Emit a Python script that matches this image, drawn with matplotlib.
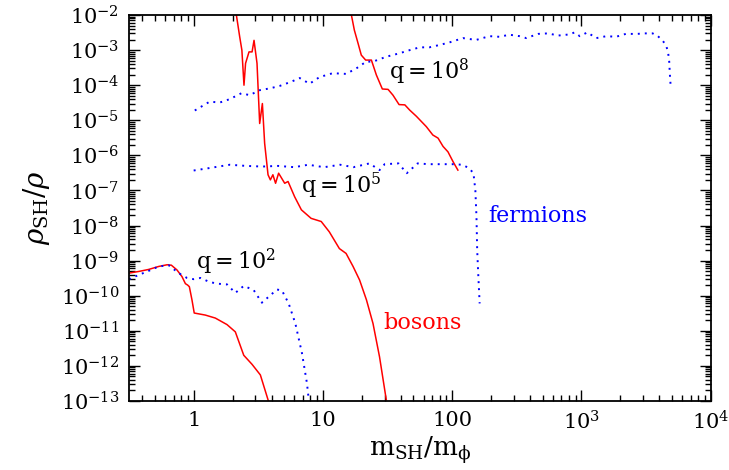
import numpy as np
import matplotlib
matplotlib.use("Agg")
import matplotlib.pyplot as plt
from matplotlib.ticker import LogLocator, FixedLocator, FixedFormatter, NullFormatter

plt.rcParams["font.family"] = ["DejaVu Serif"]
plt.rcParams["mathtext.fontset"] = "dejavuserif"

# bosons (solid red)
bos_q2_x = [0.316, 0.376, 0.449, 0.536, 0.622, 0.672, 0.743, 0.812, 0.863, 0.899, 0.926,
            0.970, 1.01, 1.23, 1.47, 1.81, 2.10, 2.44, 2.83, 3.28, 3.80]
bos_q2_y = [4.4e-10, 4.9e-10, 5.6e-10, 6.8e-10, 7.6e-10, 7.4e-10, 5.4e-10, 3.5e-10, 2.2e-10,
            2.0e-10, 1.8e-10, 7.6e-11, 3.2e-11, 2.8e-11, 2.3e-11, 1.5e-11, 9.3e-12, 2.0e-12,
            1.1e-12, 5.5e-13, 9.5e-14]

bos_q5_x = [2.14, 2.27, 2.36, 2.45, 2.52, 2.68, 2.83, 2.93, 3.09, 3.24, 3.40, 3.54, 3.76,
            3.92, 4.10, 4.30, 4.54, 5.06, 5.37, 6.04, 6.81, 8.1, 9.7, 11.2, 13.4, 15.1, 17.1,
            19.2, 21.7, 24.4, 27.4, 30.9]
bos_q5_y = [1e-2, 2.4e-3, 1e-3, 1.0e-4, 4.2e-4, 8.9e-4, 8.9e-4, 1.9e-3, 4.2e-4, 8.1e-6,
            3.0e-5, 2.2e-6, 2.8e-7, 2.0e-7, 2.8e-7, 1.6e-7, 3.1e-7, 1.6e-7, 1.8e-7, 6.6e-8,
            2.8e-8, 1.6e-8, 1.3e-8, 6.6e-9, 2.2e-9, 1.6e-9, 6.8e-10, 2.8e-10, 7.6e-11,
            1.6e-11, 1.8e-12, 1.07e-13]

bos_q8_x = [16.6, 17.5, 18.7, 19.8, 21.4, 23.7, 25.9, 28.8, 31.9, 34.8, 38.8, 43.0, 46.9,
            52.8, 63.0, 70.8, 77.7, 84.9, 92.7, 101.5, 110.6]
bos_q8_y = [1e-2, 3.7e-3, 1.55e-3, 7.2e-4, 5.2e-4, 5.2e-4, 1.95e-4, 7.8e-5, 7.6e-5, 5.2e-5,
            2.8e-5, 2.75e-5, 1.95e-5, 1.3e-5, 6.6e-6, 3.8e-6, 3.1e-6, 1.8e-6, 1.26e-6,
            6.6e-7, 3.8e-7]

# fermions (dotted blue)
fer_q2_x = [0.316, 0.376, 0.449, 0.536, 0.64, 0.766, 0.888, 1.0, 1.13, 1.31, 1.51, 1.81,
            2.10, 2.44, 2.91, 3.37, 3.80, 4.41, 4.82, 5.43, 6.12, 6.88, 7.52, 7.77]
fer_q2_y = [2.95e-10, 3.9e-10, 5.1e-10, 6.8e-10, 7.4e-10, 4.4e-10, 3.2e-10, 2.95e-10,
            3.2e-10, 2.5e-10, 2.2e-10, 2.1e-10, 1.2e-10, 1.9e-10, 1.45e-10, 6.3e-11, 9.3e-11,
            1.5e-10, 1.4e-10, 6.0e-11, 1.6e-11, 2.3e-12, 3.2e-13, 1.07e-13]

fer_q5_x = [1.0, 1.3, 1.9, 2.55, 3.4, 4.5, 6.0, 7.7, 10.2, 13.6, 17.2, 22.9, 27.4, 30.0, 38.4,
            44.5, 54.0, 65.6, 80.0, 100, 120, 135, 146, 151, 154, 156, 159, 163]
fer_q5_y = [3.7e-7, 4.3e-7, 5.4e-7, 5.0e-7, 4.8e-7, 5.0e-7, 4.6e-7, 5.4e-7, 4.6e-7, 5.4e-7,
            4.6e-7, 5.9e-7, 3.8e-7, 5.6e-7, 5.9e-7, 3.1e-7, 5.9e-7, 5.6e-7, 5.6e-7, 5.6e-7,
            5.4e-7, 4.3e-7, 3.1e-7, 1.0e-7, 1.8e-8, 2.0e-9, 4.0e-10, 6.0e-11]

fer_q8_x = [1.02, 1.33, 1.59, 1.90, 2.34, 2.71, 3.24, 3.87, 4.62, 5.70, 6.61, 7.88, 9.4,
            11.9, 15.1, 18.1, 21.6, 24.4, 31.0, 39.0, 46.9, 56, 66.5, 79.7, 95.3, 121, 153,
            194, 232, 277, 331, 374, 461, 551, 659, 805, 885, 970, 1110, 1300, 1560, 1850,
            2200, 2690, 3060, 3550, 3900, 4240, 4500, 4670, 4770, 4820, 4880]
fer_q8_y = [1.9e-5, 3.4e-5, 3.2e-5, 4.0e-5, 5.9e-5, 5.2e-5, 7.2e-5, 8.1e-5, 9.5e-5, 1.26e-4,
            1.6e-4, 1.1e-4, 1.7e-4, 2.2e-4, 2.1e-4, 3.0e-4, 4.7e-4, 4.7e-4, 6.5e-4, 8.1e-4,
            1.0e-3, 1.2e-3, 1.2e-3, 1.4e-3, 1.66e-3, 2.2e-3, 1.95e-3, 2.5e-3, 2.4e-3, 2.75e-3,
            2.5e-3, 2.2e-3, 2.9e-3, 3.0e-3, 2.6e-3, 2.8e-3, 3.2e-3, 2.5e-3, 3.2e-3, 2.2e-3,
            2.5e-3, 2.4e-3, 2.9e-3, 2.9e-3, 3.0e-3, 3.0e-3, 2.5e-3, 1.86e-3, 1.4e-3, 8.9e-4,
            4.7e-4, 2.2e-4, 1.1e-4]

xticks = [1, 10, 100, 1e3, 1e4]
xtick_labels = ["1", "10", "100", r"$10^3$", r"$10^4$"]
yticks = [10.0 ** e for e in range(-13, -1)]
ytick_labels = [r"$10^{%d}$" % e for e in range(-13, -1)]

fig = plt.figure(figsize=(7.29, 4.70), dpi=100)
ax = fig.add_axes([0.177, 0.147, 0.798, 0.821])

red = "#ff0000"
blue = "#0000ff"
for xs, ys in [(bos_q2_x, bos_q2_y), (bos_q5_x, bos_q5_y), (bos_q8_x, bos_q8_y)]:
    ax.plot(xs, ys, color=red, lw=1.1)
for xs, ys in [(fer_q2_x, fer_q2_y), (fer_q5_x, fer_q5_y), (fer_q8_x, fer_q8_y)]:
    ax.plot(xs, ys, color=blue, lw=1.4, linestyle=(0, (1, 2.6)))

ax.set_xscale("log")
ax.set_yscale("log")
ax.set_xlim(10 ** -0.5, 1e4)
ax.set_ylim(1e-13, 1e-2)

ax.xaxis.set_major_locator(FixedLocator(xticks))
ax.xaxis.set_major_formatter(FixedFormatter(xtick_labels))
ax.xaxis.set_minor_locator(LogLocator(base=10, subs=np.arange(2, 10), numticks=20))
ax.xaxis.set_minor_formatter(NullFormatter())
ax.yaxis.set_major_locator(FixedLocator(yticks))
ax.yaxis.set_major_formatter(FixedFormatter(ytick_labels))
ax.yaxis.set_minor_locator(LogLocator(base=10, subs=np.arange(2, 10), numticks=30))
ax.yaxis.set_minor_formatter(NullFormatter())

ax.tick_params(which="both", direction="in", top=True, right=True, width=1.0)
ax.tick_params(which="major", length=8, labelsize=15, pad=7)
ax.tick_params(which="minor", length=4)
for s in ax.spines.values():
    s.set_linewidth(1.3)

ax.set_xlabel(r"$\mathrm{m_{SH}/m_{\phi}}$", fontsize=19, labelpad=0)
ax.set_ylabel(r"$\rho_{\mathrm{SH}}/\rho$", fontsize=20, labelpad=6)

fs = 16
ax.text(1.05, 10 ** -9.04, r"q$=10^2$", fontsize=fs, va="center", ha="left")
ax.text(6.8, 10 ** -6.87, r"q$=10^5$", fontsize=fs, va="center", ha="left")
ax.text(32.4, 10 ** -3.62, r"q$=10^8$", fontsize=fs, va="center", ha="left")
ax.text(189, 10 ** -7.73, "fermions", fontsize=fs, color=blue, va="center", ha="left")
ax.text(29.1, 10 ** -10.78, "bosons", fontsize=fs, color=red, va="center", ha="left")

fig.savefig("out.png", dpi=100)
